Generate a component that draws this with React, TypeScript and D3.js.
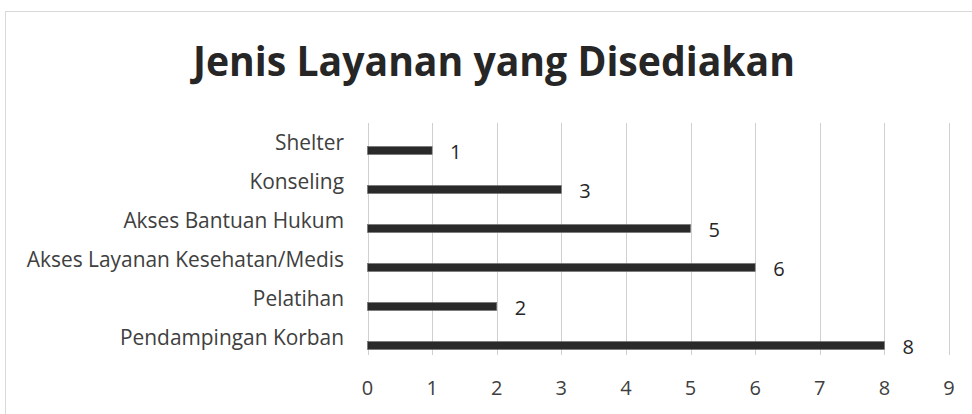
import React from 'react';
import * as d3 from 'd3';

const categories = [
  'Shelter',
  'Konseling',
  'Akses Bantuan Hukum',
  'Akses Layanan Kesehatan/Medis',
  'Pelatihan',
  'Pendampingan Korban',
];
const values = [1, 3, 5, 6, 2, 8];
const ticks = [0, 1, 2, 3, 4, 5, 6, 7, 8, 9];
const title = 'Jenis Layanan yang Disediakan';

const W = 972,
  H = 414,
  plot = { left: 367.5, right: 949, top: 123, bottom: 357 },
  font = '"Open Sans", sans-serif',
  textColor = '#404040',
  barColor = '#2a2a2a';

const App = () => {
  const x = d3.scaleLinear().domain([0, 9]).range([plot.left, plot.right]);
  const y = d3.scaleBand().domain(categories).range([plot.top, plot.bottom]);
  const barH = 8;
  // excel drew the bars a bit below the band centre
  const barShift = 8;

  return (
    <svg
      width={W}
      height={H}
      style={{ position: 'absolute', left: 0, top: 0, background: '#fff' }}
      fontFamily={font}
    >
      <rect x={5.5} y={11.5} width={1000} height={500} fill="#fff" stroke="#d9d9d9" />
      <text
        x={494}
        y={76}
        textAnchor="middle"
        fontSize={42}
        fontWeight="bold"
        fill="#262626"
        textLength={602}
        lengthAdjust="spacingAndGlyphs"
      >
        {title}
      </text>

      {/* gridlines */}
      {ticks.map((t) => (
        <line
          key={t}
          x1={Math.round(x(t)) + 0.5}
          x2={Math.round(x(t)) + 0.5}
          y1={plot.top}
          y2={355}
          stroke="#d0d0d0"
          strokeWidth={1}
        />
      ))}
      {ticks.map((t) => (
        <text key={'t' + t} x={x(t)} y={395} textAnchor="middle" fontSize={20} fill={textColor}>
          {t}
        </text>
      ))}

      {/* category labels */}
      {categories.map((c) => (
        <text
          key={c}
          x={344}
          y={y(c)! + y.bandwidth() / 2}
          dy="0.35em"
          textAnchor="end"
          fontSize={20.9}
          fill={textColor}
        >
          {c}
        </text>
      ))}

      {/* bars + values */}
      {categories.map((c, i) => {
        const cy = y(c)! + y.bandwidth() / 2 + barShift;
        return (
          <g key={'b' + c}>
            <rect
              x={x(0)}
              y={cy - barH / 2}
              width={x(values[i]) - x(0)}
              height={barH}
              fill={barColor}
              stroke="#6e6e6e"
              strokeWidth={0.6}
            />
            <text x={x(values[i]) + 18} y={cy + 1} dy="0.35em" fontSize={20} fill="#262626">
              {values[i]}
            </text>
          </g>
        );
      })}
    </svg>
  );
};

export default App;
